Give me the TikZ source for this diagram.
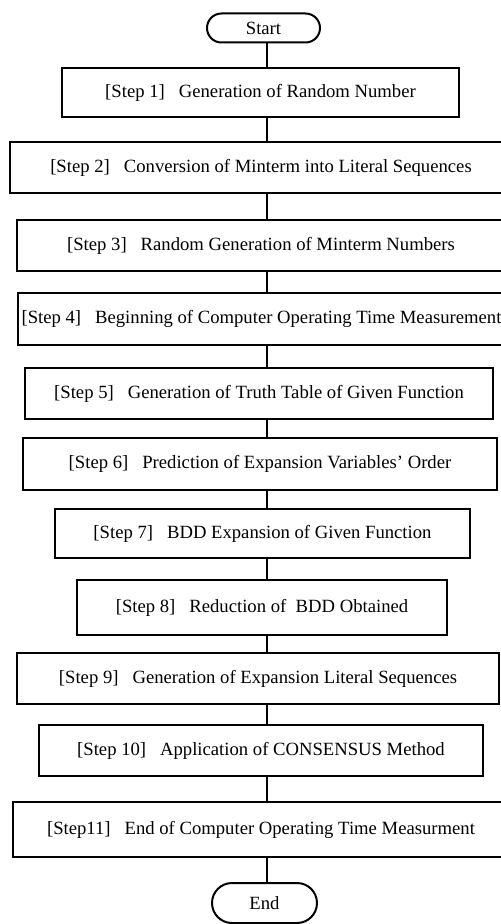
\documentclass[tikz,border=0pt]{standalone}
\usepackage{fontspec}
\setmainfont{Liberation Serif}[Ligatures=ResetAll]
\usetikzlibrary{shapes.misc}
\begin{document}
\begin{tikzpicture}[x=0.75pt,y=-0.75pt,
  stepbox/.style={draw, line width=1.5pt, rectangle, inner sep=0pt, font=\fontsize{14}{16}\selectfont, fill=white},
  termbox/.style={draw, line width=1.5pt, rounded rectangle, inner sep=0pt, font=\fontsize{14}{16}\selectfont, fill=white},
  conn/.style={line width=1.6pt}]
\useasboundingbox (0,0) rectangle (500,924);
\coordinate (cx) at (267,0);
\node[termbox, minimum width=84.75pt, minimum height=21.75pt] (start) at (263.5,28) {Start};
\node[stepbox, minimum width=297.75pt, minimum height=36.75pt] (s1) at (260.5,92.5) {[Step 1]\hspace{0.75em}Generation of Random Number};
\node[stepbox, minimum width=376.5pt, minimum height=38.25pt] (s2) at (261,167.5) {[Step 2]\hspace{0.75em}Conversion of Minterm into Literal Sequences};
\node[stepbox, minimum width=366pt, minimum height=38.25pt] (s3) at (261,245.5) {[Step 3]\hspace{0.75em}Random Generation of Minterm Numbers};
\node[stepbox, minimum width=365.25pt, minimum height=39pt] (s4) at (261.5,319) {[Step 4]\hspace{0.75em}Beginning of Computer Operating Time Measurement};
\node[stepbox, minimum width=351pt, minimum height=38.25pt] (s5) at (259,393.5) {[Step 5]\hspace{0.75em}Generation of Truth Table of Given Function};
\node[stepbox, minimum width=355.5pt, minimum height=39pt] (s6) at (260,464) {[Step 6]\hspace{0.75em}Prediction of Expansion Variables' Order};
\node[stepbox, minimum width=311.25pt, minimum height=36.75pt] (s7) at (262.5,533.5) {[Step 7]\hspace{0.75em}BDD Expansion of Given Function};
\node[stepbox, minimum width=277.5pt, minimum height=41.25pt] (s8) at (262,607.5) {[Step 8]\hspace{0.75em}Reduction of\hspace{0.5em}BDD Obtained};
\node[stepbox, minimum width=361.5pt, minimum height=38.25pt] (s9) at (258,678.5) {[Step 9]\hspace{0.75em}Generation of Expansion Literal Sequences};
\node[stepbox, minimum width=333pt, minimum height=38.25pt] (s10) at (261,750.5) {[Step 10]\hspace{0.75em}Application of CONSENSUS Method};
\node[stepbox, minimum width=372pt, minimum height=41.25pt] (s11) at (261,829.5) {[Step11]\hspace{0.75em}End of Computer Operating Time Measurment};
\node[termbox, minimum width=78.75pt, minimum height=30pt] (end) at (264.5,903) {End};
\draw[conn] (start.south -| cx) -- (s1.north -| cx);
\draw[conn] (s1.south -| cx) -- (s2.north -| cx);
\draw[conn] (s2.south -| cx) -- (s3.north -| cx);
\draw[conn] (s3.south -| cx) -- (s4.north -| cx);
\draw[conn] (s4.south -| cx) -- (s5.north -| cx);
\draw[conn] (s5.south -| cx) -- (s6.north -| cx);
\draw[conn] (s6.south -| cx) -- (s7.north -| cx);
\draw[conn] (s7.south -| cx) -- (s8.north -| cx);
\draw[conn] (s8.south -| cx) -- (s9.north -| cx);
\draw[conn] (s9.south -| cx) -- (s10.north -| cx);
\draw[conn] (s10.south -| cx) -- (s11.north -| cx);
\draw[conn] (s11.south -| cx) -- (end.north -| cx);
\end{tikzpicture}
\end{document}
